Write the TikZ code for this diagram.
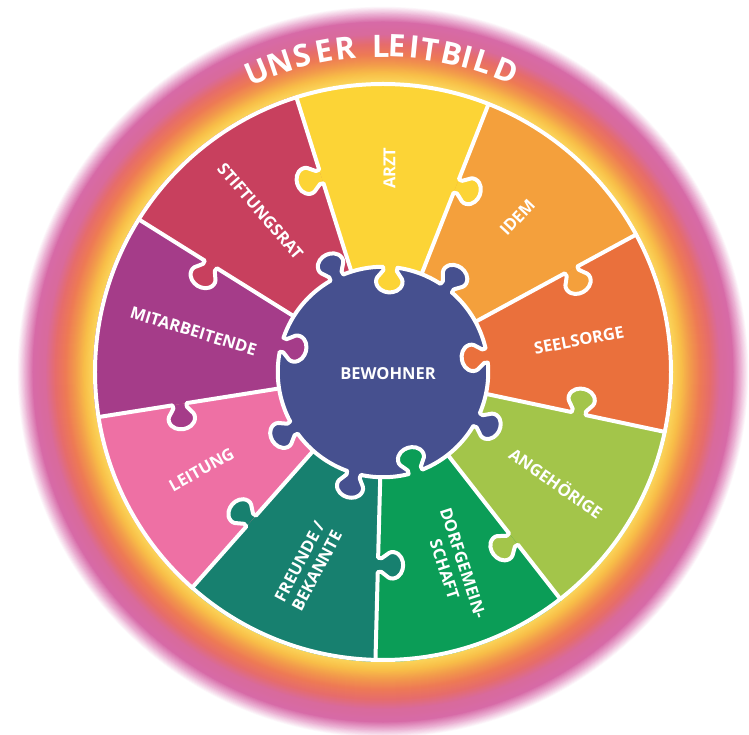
\documentclass[tikz,border=0pt]{standalone}
\usepackage{fontspec}
\setmainfont{Open Sans}
\definecolor{stiftung}{HTML}{C8405E}
\definecolor{arzt}{HTML}{FCD436}
\definecolor{idem}{HTML}{F4A03C}
\definecolor{seelsorge}{HTML}{EA703C}
\definecolor{angeh}{HTML}{A3C54A}
\definecolor{dorf}{HTML}{0B9D57}
\definecolor{freunde}{HTML}{17806F}
\definecolor{leitung}{HTML}{EE70A4}
\definecolor{mitarb}{HTML}{A53C89}
\definecolor{bewohner}{HTML}{46508F}
\definecolor{glowa}{HTML}{EBB0D3}
\definecolor{glowb}{HTML}{D76AA7}
\definecolor{glowc}{HTML}{D96A9C}
\definecolor{glowd}{HTML}{E66C6C}
\definecolor{glowe}{HTML}{EE7A55}
\definecolor{glowf}{HTML}{F29A4B}
\definecolor{glowg}{HTML}{F8BE48}
\definecolor{glowh}{HTML}{FBD65A}
\def\blobr{105}
% knob on a straight seam, seam along x
\newcommand\sideknob[2]{-- (#1-7.2,0) .. controls (#1-3.6,#2*4.8) and (#1-14.4,#2*8.4) .. (#1-13.2,#2*15.6) .. controls (#1-12,#2*22.8) and (#1-4.8,#2*25.2) .. (#1,#2*25.2) .. controls (#1+4.8,#2*25.2) and (#1+12,#2*22.8) .. (#1+13.2,#2*15.6) .. controls (#1+14.4,#2*8.4) and (#1+3.6,#2*4.8) .. (#1+7.2,0)}
% knob on the rim of the centre piece
\newcommand\rimknob[2]{-- ([rotate=#1]\blobr,-7.2) .. controls ([rotate=#1]#2*4.8+\blobr,-3.6) and ([rotate=#1]#2*8.4+\blobr,-14.4) .. ([rotate=#1]#2*15.6+\blobr,-13.2) .. controls ([rotate=#1]#2*22.8+\blobr,-12) and ([rotate=#1]#2*25.2+\blobr,-4.8) .. ([rotate=#1]#2*25.2+\blobr,0) .. controls ([rotate=#1]#2*25.2+\blobr,4.8) and ([rotate=#1]#2*22.8+\blobr,12) .. ([rotate=#1]#2*15.6+\blobr,13.2) .. controls ([rotate=#1]#2*8.4+\blobr,14.4) and ([rotate=#1]#2*4.8+\blobr,3.6) .. ([rotate=#1]\blobr,7.2)}
\newcommand\blobpath{([rotate=9]\blobr,7.2)
  arc[start angle=12.9, end angle=49.1, radius=\blobr] \rimknob{53}{1}
  arc[start angle=56.9, end angle=82.1, radius=\blobr] \rimknob{86}{-1}
  arc[start angle=89.9, end angle=112.1, radius=\blobr] \rimknob{116}{1}
  arc[start angle=119.9, end angle=161.1, radius=\blobr] \rimknob{165}{-1}
  arc[start angle=168.9, end angle=208.1, radius=\blobr] \rimknob{212}{1}
  arc[start angle=215.9, end angle=250.1, radius=\blobr] \rimknob{254}{1}
  arc[start angle=257.9, end angle=284.1, radius=\blobr] \rimknob{288}{-1}
  arc[start angle=291.9, end angle=329.1, radius=\blobr] \rimknob{333}{1}
  arc[start angle=336.9, end angle=365.1, radius=\blobr] \rimknob{9}{-1} -- cycle}
\tikzset{
  seam/.style={draw=white, line width=4pt, line join=round, line cap=round},
  piecetext/.style={text=white, font=\fontsize{16.5}{19.5}\selectfont\bfseries, align=center, inner sep=0pt},
  titlechar/.style={text=white, font=\fontsize{31}{31}\selectfont\bfseries, anchor=base, inner sep=0pt},
}
\begin{document}
\begin{tikzpicture}[x=1pt,y=1pt]
  \useasboundingbox (-383,-363) rectangle (366,372);

  \foreach \ro/\co/\ri/\ci in {366/white/358/glowa, 358/glowa/350/glowb, 350/glowb/338/glowc, 338/glowc/328/glowd, 328/glowd/318/glowe, 318/glowe/308/glowf, 308/glowf/299/glowg, 299/glowg/290/glowh}
    \foreach \k in {0,...,10} {
      \pgfmathsetmacro\rad{\ro-(\ro-\ri)*\k/10}
      \pgfmathtruncatemacro\pct{\k*10}
      \fill[fill=\ci!\pct!\co] (0,0) circle[radius=\rad];
    }

  \foreach \a/\b/\c in {107.5/148/stiftung, 68.5/107.5/arzt, 28.5/68.5/idem, -12/28.5/seelsorge, -52/-12/angeh, -91.5/-52/dorf, -131.5/-91.5/freunde, -171/-131.5/leitung, 148/189/mitarb}
    \fill[\c] (0,0) -- (\a:290) arc[start angle=\a, end angle=\b, radius=290] -- cycle;

  \foreach \a/\d/\s/\c in {107.5/205/1/arzt, 68.5/200/-1/arzt, 28.5/214/-1/idem, -12/200/1/angeh, -52/212/-1/angeh, -91.5/193/1/freunde, -131.5/199/-1/freunde, -171/206/1/mitarb, 148/203/1/stiftung}
  {
    \begin{scope}[rotate=\a]
      \fill[\c] (\d-7.2,0) \sideknob{\d}{\s} -- cycle;
      \draw[seam] (\blobr,0) \sideknob{\d}{\s} -- (288,0);
    \end{scope}
  }

  \fill[bewohner] \blobpath;
  \draw[seam] \blobpath;
  \draw[seam] (0,0) circle[radius=288];

  \node[piecetext] (bewohner) at (5,-2) {BEWOHNER};
  \node[piecetext, rotate=-49] (stiftungsrat) at (-122.6,160.8) {STIFTUNGSRAT};
  \node[piecetext, rotate=90] (arzt) at (6.4,203.8) {ARZT};
  \node[piecetext, rotate=47] (idem) at (134.4,154.6) {IDEM};
  \node[piecetext, rotate=11] (seelsorge) at (196,31.8) {SEELSORGE};
  \node[piecetext, rotate=-35] (angehoerige) at (173.6,-110.6) {ANGEHÖRIGE};
  \node[piecetext, rotate=-72] (dorf) at (70.9,-194.2) {DORFGEMEIN-\\SCHAFT};
  \node[piecetext, rotate=62] (freunde) at (-74.8,-194.2) {FREUNDE /\\BEKANNTE};
  \node[piecetext, rotate=29] (leitung) at (-181.4,-97.7) {LEITUNG};
  \node[piecetext, rotate=-17] (mitarbeitende) at (-189.5,40.9) {MITARBEITENDE};

  \foreach \letr/\ang [count=\i] in {U/112.8, N/108.4, S/104.3, E/100.5, R/96.7, L/90.4, E/87.6, I/84.5, T/81.7, B/77.7, I/75.0, L/72.1, D/67.8}
    \node[titlechar, rotate=\ang-90] (ttl\i) at (\ang:315) {\letr};
\end{tikzpicture}
\end{document}
